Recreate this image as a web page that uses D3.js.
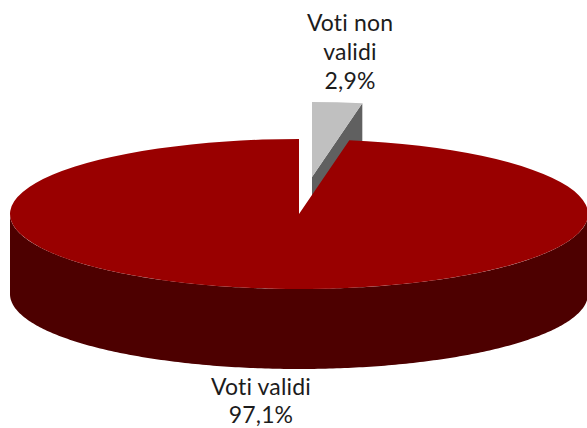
<!DOCTYPE html>
<html><head><meta charset="utf-8">
<script src="https://cdn.jsdelivr.net/npm/d3@7"></script>
<style>html,body{margin:0;padding:0;background:#fff;overflow:hidden}svg{display:block}text{font-family:Lato,sans-serif;font-size:23px;letter-spacing:.15px;fill:#1c1c1c;text-anchor:middle}</style>
</head><body><svg id="c" width="587" height="428"></svg>
<script>
const categories = ["Voti validi", "Voti non validi"];
const values = [97.1, 2.9];
const labelLines = [["Voti validi"], ["Voti non", "validi"]];
const topColors = ["#990000", "#c0c0c0"];
const wallColors = ["#4d0000", "#606060"];

const W = 587, H = 428, cx = 299, cy = 214, rx = 289, ry = 75, depth = 80;
const explode = [[0, 0], [13, -37]];
const labelPos = [[261, 395], [350, 31]];
const lineGaps = [28, 29];
const tiltCorrection = 0.96; // the tilted view narrows the wedge slightly

const svg = d3.select("#c");
// pie: slices run clockwise from 12 o'clock, the small slice first
const pie = d3.pie().sort((a, b) => b.i - a.i).value(d => d.value);
const slices = pie(categories.map((name, i) => ({name, value: values[i], i})));
const small = slices.find(s => s.data.i === 1), main = slices.find(s => s.data.i === 0);
const cut = small.endAngle * tiltCorrection;
small.endAngle = cut;
main.startAngle = cut;

const px = a => rx * Math.sin(a), py = a => -ry * Math.cos(a);
const arcGen = d3.arc().innerRadius(0).outerRadius(rx);
const line = d3.line();

function drawSlice(s, drawWall) {
  const [ox, oy] = explode[s.data.i];
  const g = svg.append("g").attr("transform", `translate(${cx + ox},${cy + oy})`);
  drawWall(g, wallColors[s.data.i]);
  g.append("path").attr("transform", `scale(1,${ry / rx})`)
    .attr("d", arcGen(s)).attr("fill", topColors[s.data.i]);
}

// exploded slice: its visible wall is the cut face at the slice's end angle
drawSlice(small, (g, c) => {
  const a = small.endAngle;
  g.append("path").attr("fill", c).attr("d",
    line([[0, 0], [px(a), py(a)], [px(a), py(a) + depth], [0, depth]]) + "Z");
});

// main slice: wall follows the front half of the rim
drawSlice(main, (g, c) => {
  const n = 240;
  const angles = d3.range(n + 1).map(k => Math.PI / 2 + Math.PI * k / n);
  const upper = angles.map(a => [px(a), py(a)]);
  const lower = angles.slice().reverse().map(a => [px(a), py(a) + depth]);
  g.append("path").attr("fill", c).attr("d", line(upper.concat(lower)) + "Z");
});

categories.forEach((name, i) => {
  const pct = d3.format(".1f")(values[i]).replace(".", ",") + "%";
  const lines = labelLines[i].concat([pct]);
  const t = svg.append("text").attr("aria-label", name);
  lines.forEach((l, k) => t.append("tspan")
    .attr("x", labelPos[i][0]).attr("y", labelPos[i][1] + k * lineGaps[i]).text(l));
});
</script></body></html>
